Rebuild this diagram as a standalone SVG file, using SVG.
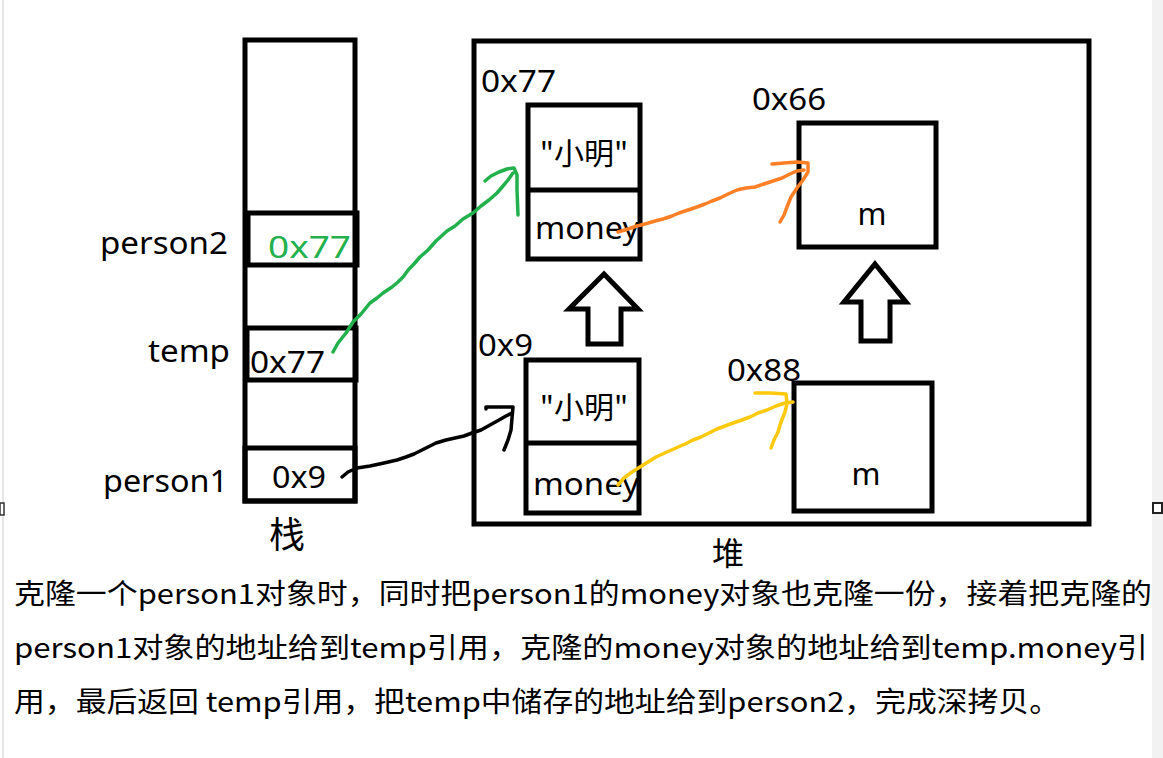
<svg xmlns="http://www.w3.org/2000/svg" width="1163" height="758" viewBox="0 0 1163 758">
<style>
.box{fill:none;stroke:#000;stroke-width:5}
.lbl{font-family:"Noto Sans","Open Sans",sans-serif;font-size:31px;fill:#000}
.cjk{font-family:"Noto Sans CJK SC",sans-serif;fill:#000}
.pen{fill:none;stroke-width:3.5;stroke-linecap:round;stroke-linejoin:round}
.up{fill:#fff;stroke:#000;stroke-width:5;stroke-linejoin:miter}
</style>
<rect x="0" y="0" width="1163" height="758" fill="#fff"/>
<rect x="1152" y="0" width="11" height="758" fill="#f2f2f2"/>
<line x1="3" y1="0" x2="3" y2="758" stroke="#e6e6e6" stroke-width="2"/>
<rect x="0" y="503" width="4" height="12" fill="#fff" stroke="#333" stroke-width="1.5"/>
<rect x="1153" y="503" width="9" height="10" fill="#fff" stroke="#222" stroke-width="2"/>

<g id="stack">
<rect class="box" x="245" y="40" width="110" height="461"/>
<text class="cjk" x="287" y="548" font-size="36" text-anchor="middle">栈</text>
</g>
<g id="person2">
<rect class="box" x="248" y="213" width="109" height="52"/>
<text class="lbl" x="100" y="254" textLength="128" lengthAdjust="spacingAndGlyphs">person2</text>
<text class="lbl" x="268" y="258" style="fill:#22b14c" textLength="83" lengthAdjust="spacingAndGlyphs">0x77</text>
</g>
<g id="temp">
<rect class="box" x="247" y="328" width="109" height="52"/>
<text class="lbl" x="148" y="362" textLength="82" lengthAdjust="spacingAndGlyphs">temp</text>
<text class="lbl" x="250" y="373" textLength="75" lengthAdjust="spacingAndGlyphs">0x77</text>
</g>
<g id="person1">
<rect class="box" x="245" y="448" width="110" height="53"/>
<text class="lbl" x="103" y="492" textLength="125" lengthAdjust="spacingAndGlyphs">person1</text>
<text class="lbl" x="272" y="488" textLength="54" lengthAdjust="spacingAndGlyphs">0x9</text>
</g>

<g id="heap">
<rect class="box" x="474" y="41" width="615" height="483"/>
<text class="cjk" x="728" y="565" font-size="32" text-anchor="middle">堆</text>
</g>

<g id="obj-0x77">
<rect class="box" x="528" y="105" width="112" height="154"/>
<line class="box" x1="528" y1="190" x2="640" y2="190"/>
<text class="lbl" x="481" y="92" textLength="75" lengthAdjust="spacingAndGlyphs">0x77</text>
<text class="cjk" x="584" y="164" font-size="30" text-anchor="middle">"小明"</text>
<text class="lbl" x="535" y="239" textLength="104" lengthAdjust="spacingAndGlyphs">money</text>
</g>
<g id="obj-0x66">
<rect class="box" x="799" y="123" width="137" height="124"/>
<text class="lbl" x="752" y="110" textLength="74" lengthAdjust="spacingAndGlyphs">0x66</text>
<text class="lbl" x="872" y="225" text-anchor="middle">m</text>
</g>
<g id="obj-0x9">
<rect class="box" x="526" y="360" width="113" height="153"/>
<line class="box" x1="526" y1="443" x2="639" y2="443"/>
<text class="lbl" x="478" y="356" textLength="55" lengthAdjust="spacingAndGlyphs">0x9</text>
<text class="cjk" x="584" y="418" font-size="30" text-anchor="middle">"小明"</text>
<text class="lbl" x="533" y="495" textLength="106" lengthAdjust="spacingAndGlyphs">money</text>
</g>
<g id="obj-0x88">
<rect class="box" x="794" y="383" width="138" height="128"/>
<text class="lbl" x="727" y="381" textLength="74" lengthAdjust="spacingAndGlyphs">0x88</text>
<text class="lbl" x="866" y="485" text-anchor="middle">m</text>
</g>

<g id="up-arrow-1">
<polygon class="up" points="604,274 638,309 621,309 621,344 588,344 588,309 569,309"/>
</g>
<g id="up-arrow-2">
<polygon class="up" points="875,264 906,302 890,302 890,341 861,341 861,302 844,302"/>
</g>

<g id="connectors">
<path class="pen" stroke="#22b14c" d="M333,352 L338,343 L346,333 L353,322 L361,314 L370,303 L377,298 L383,293 L392,287 L398,282 L403,277 L409,269 L414,264 L420,257 L428,250 L436,241 L447,231 L455,226 L463,219 L473,213 L481,206 L489,200 L497,193 L503,186 L508,180 L513,173"/>
<path class="pen" stroke="#22b14c" d="M485,181 L491,176 L499,172 L507,169 L514,168 L517,175 L517,190 L518,215"/>
<path class="pen" stroke="#000" d="M342,477 L348,472 L357,468 L370,466 L384,463 L397,460 L406,457 L414,454 L420,451 L428,447 L436,443 L446,440 L455,438 L464,436 L472,433 L481,430 L490,425 L499,420 L506,416 L512,413"/>
<path class="pen" stroke="#000" d="M486,409 L486,407 L500,407 L513,407 L512,418 L511,430 L508,440 L504,450"/>
<path class="pen" stroke="#ff7f27" d="M618,232 L628,229 L637,226 L645,224 L655,221 L663,219 L672,216 L679,213 L688,210 L697,207 L705,204 L712,201 L720,198 L728,194 L737,190 L746,188 L755,187 L764,184 L773,181 L782,178 L790,174 L797,171 L804,170"/>
<path class="pen" stroke="#ff7f27" d="M772,164 L784,163 L797,162 L808,163 L808,172 L803,180 L797,188 L791,197 L787,207 L784,215 L780,222"/>
<path class="pen" stroke="#ffc90e" d="M618,485 L624,478 L632,472 L640,467 L648,462 L656,457 L667,452 L676,448 L685,444 L693,440 L701,437 L709,433 L717,429 L725,426 L733,423 L742,420 L750,417 L758,413 L767,410 L776,406 L785,403 L793,402"/>
<path class="pen" stroke="#ffc90e" d="M755,393 L770,393 L786,394 L787,403 L785,412 L781,422 L778,432 L774,440 L771,448"/>
</g>

<g id="caption" class="cjk" font-size="28">
<text x="14" y="604" textLength="1138" lengthAdjust="spacingAndGlyphs">克隆一个person1对象时，同时把person1的money对象也克隆一份，接着把克隆的</text>
<text x="14" y="658" textLength="1134" lengthAdjust="spacingAndGlyphs">person1对象的地址给到temp引用，克隆的money对象的地址给到temp.money引</text>
<text x="14" y="712" textLength="1046" lengthAdjust="spacingAndGlyphs">用，最后返回 temp引用，把temp中储存的地址给到person2，完成深拷贝。</text>
</g>
</svg>
